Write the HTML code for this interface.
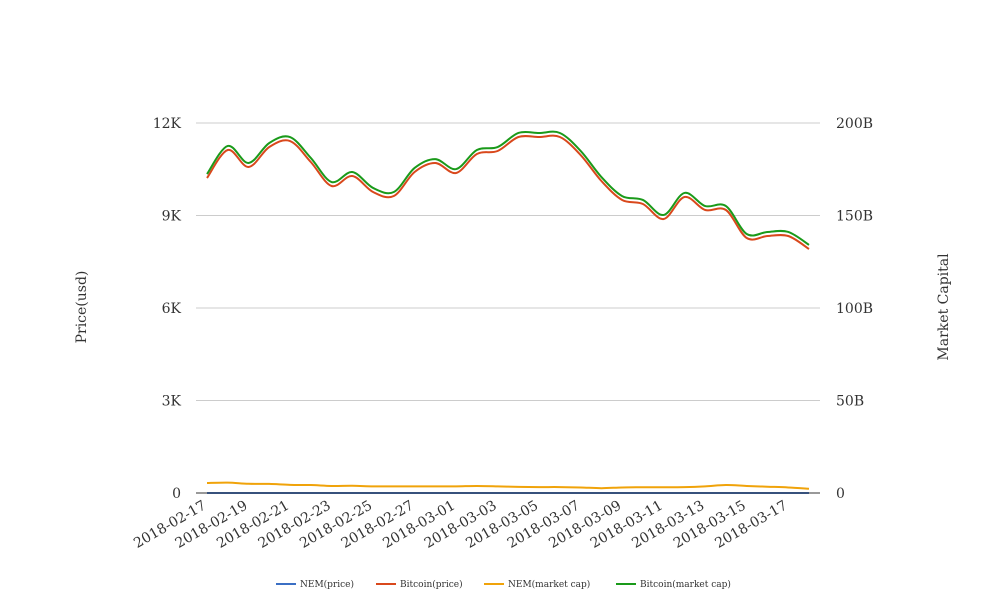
<!DOCTYPE html>
<html><head><meta charset="utf-8">
<style>
html,body{margin:0;padding:0;background:#fff;}
svg{display:block;font-family:"DejaVu Serif","Liberation Serif",serif;}
</style></head>
<body>
<svg id="chart" width="1008" height="616" viewBox="0 0 1008 616" xmlns="http://www.w3.org/2000/svg">
<g id="grid"></g>
<g id="series"></g>
<g id="axes"></g>
<text transform="translate(86,307) rotate(-90)" text-anchor="middle" font-size="14" fill="#333">Price(usd)</text>
<text transform="translate(948,307) rotate(-90)" text-anchor="middle" font-size="14" fill="#333">Market Capital</text>
<g id="legend"></g>
</svg>
<script>
const dates = ["2018-02-17","2018-02-18","2018-02-19","2018-02-20","2018-02-21","2018-02-22","2018-02-23","2018-02-24","2018-02-25","2018-02-26","2018-02-27","2018-02-28","2018-03-01","2018-03-02","2018-03-03","2018-03-04","2018-03-05","2018-03-06","2018-03-07","2018-03-08","2018-03-09","2018-03-10","2018-03-11","2018-03-12","2018-03-13","2018-03-14","2018-03-15","2018-03-16","2018-03-17","2018-03-18"];
const nemPrice = [0.55,0.54,0.5,0.48,0.47,0.45,0.43,0.43,0.41,0.4,0.4,0.4,0.4,0.4,0.39,0.38,0.37,0.36,0.34,0.32,0.33,0.33,0.33,0.34,0.35,0.37,0.34,0.33,0.3,0.26];
const btcPrice = [10216,11124,10573,11221,11416,10735,9957,10281,9762,9632,10411,10703,10378,10995,11092,11546,11546,11546,10962,10119,9503,9373,8886,9600,9178,9178,8270,8335,8335,7914];
const nemCap = [5.4,5.6,5.0,4.9,4.4,4.3,3.8,3.9,3.6,3.6,3.6,3.6,3.6,3.8,3.6,3.3,3.2,3.2,3.0,2.6,3.0,3.1,3.1,3.2,3.6,4.3,3.8,3.4,3.0,2.3];
const btcCap = [172.4,187.6,178.4,189.2,192.4,181.1,168.1,173.5,164.9,162.7,175.7,180.5,175.1,185.4,187.0,194.6,194.6,194.6,184.9,170.8,160.5,158.4,150.3,162.2,155.1,155.1,140.0,141.1,141.1,134.1];
const leftTicks = [0,3000,6000,9000,12000];
const leftLabels = ["0","3K","6K","9K","12K"];
const rightTicks = [0,50,100,150,200];
const rightLabels = ["0","50B","100B","150B","200B"];
const seriesNames = ["NEM(price)","Bitcoin(price)","NEM(market cap)","Bitcoin(market cap)"];
const seriesColors = ["#3b6fc4","#d9481c","#f0a30a","#1a9a1a"];

const NS="http://www.w3.org/2000/svg";
const X0=196,X1=820,Y0=493,Y1=123;
const xPad=11;
function xs(i){return X0+xPad+i*(X1-X0-2*xPad)/(dates.length-1);}
function yl(v){return Y0-(v/12000)*(Y0-Y1);}
function yr(v){return Y0-(v/200)*(Y0-Y1);}
function mk(tag,attrs,parent){const e=document.createElementNS(NS,tag);for(const k in attrs)e.setAttribute(k,attrs[k]);parent.appendChild(e);return e;}
const grid=document.getElementById('grid'),axes=document.getElementById('axes'),ser=document.getElementById('series'),leg=document.getElementById('legend');
leftTicks.forEach((t,i)=>{
  if(i>0){const l=mk('line',{x1:X0,x2:X1,y1:yl(t),y2:yl(t),stroke:'#ccc','stroke-width':1},grid);
  
  }
  const tx=mk('text',{x:181,y:yl(t)+5,'text-anchor':'end','font-size':14,fill:'#333'},axes);
  tx.textContent=leftLabels[i];
  
  
});
rightTicks.forEach((t,i)=>{
  const tx=mk('text',{x:836,y:yr(t)+5,'text-anchor':'start','font-size':14,fill:'#333'},axes);
  tx.textContent=rightLabels[i];
  
  
});
const base=mk('line',{x1:X0,x2:X1,y1:Y0,y2:Y0,stroke:'#333','stroke-width':1},axes);


dates.forEach((d,i)=>{
  if(i%2)return;
  const x=xs(i);
  const tx=mk('text',{x:x,y:508,'text-anchor':'end','font-size':14,fill:'#333',transform:`rotate(-30 ${x} 508)`},axes);
  tx.textContent=d;
  
  
});
function smooth(pts){
  let d=`M${pts[0][0]},${pts[0][1]}`;
  for(let i=0;i<pts.length-1;i++){
    const p0=pts[i-1]||pts[i],p1=pts[i],p2=pts[i+1],p3=pts[i+2]||p2;
    const c1=[p1[0]+(p2[0]-p0[0])/6,p1[1]+(p2[1]-p0[1])/6];
    const c2=[p2[0]-(p3[0]-p1[0])/6,p2[1]-(p3[1]-p1[1])/6];
    d+=`C${c1[0]},${c1[1]} ${c2[0]},${c2[1]} ${p2[0]},${p2[1]}`;
  }
  return d;
}
const data=[[nemPrice,yl],[btcPrice,yl],[nemCap,yr],[btcCap,yr]];
const snames=['nem-price-line','bitcoin-price-line','nem-market-cap-line','bitcoin-market-cap-line'];
data.forEach(([vals,f],k)=>{
  const pts=vals.map((v,i)=>[xs(i),f(v)]);
  const p=mk('path',{d:smooth(pts),fill:'none',stroke:seriesColors[k],'stroke-width':2},ser);
  
  
});
const legX=[276,376,484,616];
seriesNames.forEach((n,k)=>{
  const g=mk('g',{},leg);
  
  
  mk('line',{x1:legX[k],x2:legX[k]+20,y1:584,y2:584,stroke:seriesColors[k],'stroke-width':2},g);
  const t=mk('text',{x:legX[k]+24,y:587,'font-size':9,fill:'#333'},g);
  t.textContent=n;
});
</script>
</body></html>
